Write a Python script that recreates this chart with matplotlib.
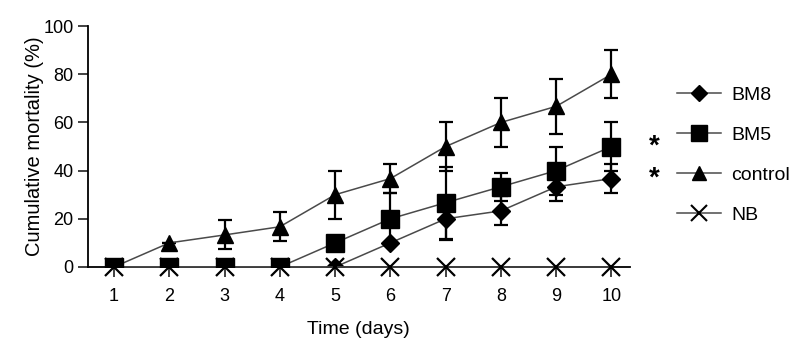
import matplotlib.pyplot as plt
from matplotlib.lines import Line2D

plt.rcParams['font.family'] = ['Liberation Sans', 'DejaVu Sans']

days = [1, 2, 3, 4, 5, 6, 7, 8, 9, 10]
control = [0, 10, 13.3, 16.7, 30, 36.7, 50, 60, 66.7, 80]
control_err = [0, 0, 6, 6, 10, 6, 10, 10, 11.5, 10]
bm5 = [0, 0, 0, 0, 10, 20, 26.7, 33.3, 40, 50]
bm5_err = [0, 0, 0, 0, 0, 10.7, 15, 5.7, 10, 10]
bm8 = [0, 0, 0, 0, 0, 10, 20, 23.3, 33.3, 36.7]
bm8_err = [0, 0, 0, 0, 0, 0, 9, 6, 6, 6]
nb = [0, 0, 0, 0, 0, 0, 0, 0, 0, 0]
labels = ['BM8', 'BM5', 'control', 'NB']
stars_y = [50, 36.7]

fig = plt.figure(figsize=(8.11, 3.48), dpi=100)
ax = fig.add_axes([0.1085, 0.2328, 0.668, 0.6922])

line_kw = dict(color='#4a4a4a', lw=1.1, ecolor='black', elinewidth=1.6,
               capsize=5, capthick=1.6, mfc='black', mec='black')

ax.errorbar(days, control, yerr=control_err, marker='^', ms=12, zorder=3, **line_kw)
ax.errorbar(days, bm8, yerr=bm8_err, marker='D', ms=9, zorder=3, **line_kw)
ax.plot(days, nb, marker='x', ms=13, mew=1.6, color='#4a4a4a',
        mec='black', lw=1.1, clip_on=False, zorder=4)
ax.errorbar(days, bm5, yerr=bm5_err, marker='s', ms=13, zorder=5, **line_kw)

for v in stars_y:
    ax.text(10.78, v, '*', fontsize=20, fontweight='bold', ha='center',
            va='center', clip_on=False)

ax.set_xlim(0.53, 10.33)
ax.set_ylim(0, 100)
ax.set_xticks(days)
ax.set_yticks([0, 20, 40, 60, 80, 100])
ax.tick_params(labelsize=13, width=1.3, length=7, direction='out', color='#333333')
ax.tick_params(axis='x', pad=8)
ax.spines['top'].set_visible(False)
ax.spines['right'].set_visible(False)
ax.spines['left'].set_linewidth(1.3)
ax.spines['bottom'].set_linewidth(1.3)
ax.set_xlabel('Time (days)', fontsize=14, labelpad=12)
ax.set_ylabel('Cumulative mortality (%)', fontsize=14.5)
ax.yaxis.set_label_coords(-0.082, 0.5)

handles = [
    Line2D([], [], color='#4a4a4a', lw=1.1, marker='D', ms=8, mfc='black', mec='black'),
    Line2D([], [], color='#4a4a4a', lw=1.1, marker='s', ms=11, mfc='black', mec='black'),
    Line2D([], [], color='#4a4a4a', lw=1.1, marker='^', ms=10, mfc='black', mec='black'),
    Line2D([], [], color='#4a4a4a', lw=1.1, marker='x', ms=11, mew=1.5, mec='black'),
]
fig.legend(handles, labels, loc='upper left', bbox_to_anchor=(0.8126, 0.803),
           frameon=False, fontsize=14, handlelength=2.3, labelspacing=1.15,
           handletextpad=0.5)

fig.savefig('out.png', dpi=100)
